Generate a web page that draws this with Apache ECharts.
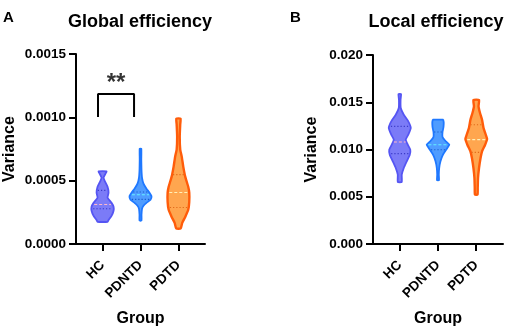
<!DOCTYPE html>
<html>
<head>
<meta charset="utf-8">
<script src="https://cdn.jsdelivr.net/npm/echarts@6/dist/echarts.min.js"></script>
<style>
  html, body { margin: 0; padding: 0; background: #fff; }
  #chart { width: 510px; height: 331px; }
</style>
</head>
<body>
<div id="chart"></div>
<script>
const groups = ['HC', 'PDNTD', 'PDTD'];
const groupPos = [1, 2, 3];

// Global efficiency - violin outlines: value + half width (category units)
const geHcY = [0.000574, 0.000556, 0.000524, 0.000492, 0.000452, 0.000405, 0.000365, 0.000325, 0.000294, 0.000262, 0.000222, 0.000190, 0.000175];
const geHcW = [0.105, 0.079, 0.026, 0.066, 0.132, 0.158, 0.132, 0.237, 0.29, 0.29, 0.237, 0.158, 0.132];
const gePdntdY = [0.000752, 0.000667, 0.000587, 0.000524, 0.000476, 0.000437, 0.000405, 0.000377, 0.000349, 0.000325, 0.000302, 0.000278, 0.000230, 0.000185];
const gePdntdW = [0.021, 0.021, 0.026, 0.04, 0.079, 0.158, 0.237, 0.29, 0.264, 0.158, 0.079, 0.04, 0.026, 0.026];
const gePdtdY = [0.000990, 0.000944, 0.000849, 0.000746, 0.000690, 0.000611, 0.000532, 0.000452, 0.000405, 0.000333, 0.000270, 0.000214, 0.000167, 0.000123];
const gePdtdW = [0.055, 0.047, 0.034, 0.047, 0.087, 0.127, 0.179, 0.258, 0.285, 0.285, 0.258, 0.179, 0.1, 0.06];
const geMedian = [0.000312, 0.000389, 0.000407];
const geQ1 = [0.000278, 0.000352, 0.000288];
const geQ3 = [0.000423, 0.000410, 0.000548];

// Local efficiency
const leHcY = [0.01587, 0.01527, 0.01439, 0.01368, 0.01298, 0.01228, 0.01157, 0.01104, 0.01051, 0.00998, 0.00945, 0.00875, 0.00804, 0.00733, 0.00656];
const leHcW = [0.034, 0.021, 0.026, 0.105, 0.223, 0.288, 0.223, 0.157, 0.209, 0.275, 0.262, 0.183, 0.105, 0.052, 0.052];
const lePdntdY = [0.01315, 0.01291, 0.01238, 0.01185, 0.01132, 0.0109, 0.01051, 0.01011, 0.00945, 0.00875, 0.00804, 0.00733, 0.00674];
const lePdntdW = [0.131, 0.149, 0.144, 0.118, 0.118, 0.196, 0.296, 0.236, 0.131, 0.065, 0.031, 0.021, 0.026];
const lePdtdY = [0.01524, 0.01457, 0.01386, 0.01315, 0.01228, 0.01164, 0.01111, 0.01048, 0.00981, 0.0091, 0.00804, 0.00698, 0.00593, 0.00524];
const lePdtdW = [0.073, 0.06, 0.099, 0.152, 0.191, 0.243, 0.283, 0.23, 0.152, 0.113, 0.073, 0.047, 0.039, 0.034];
const leMedian = [0.01079, 0.01051, 0.01104];
const leQ1 = [0.00956, 0.00998, 0.0097];
const leQ3 = [0.01245, 0.01185, 0.01262];

// significance bracket HC vs PDNTD
const bracketX = [0.88, 1.83];
const bracketY = [0.001003, 0.001184];

const fills = ['#7b7bf7', '#4f9cff', '#ffa64f'];
const strokes = ['#5555f3', '#1f78ff', '#ff5c0a'];
const strokeW = [1.8, 1.8, 2.4];
const medColors = ['#ffb8c8', '#66f0ff', '#fff0b8'];
const qColors = ['#3b3bc8', '#1a5cc8', '#e06a1a'];

function widthAt(ys, ws, v) {
  for (let k = 0; k < ys.length - 1; k++) {
    if (v <= ys[k] && v >= ys[k + 1]) {
      const t = (ys[k] - v) / (ys[k] - ys[k + 1]);
      return ws[k] + t * (ws[k + 1] - ws[k]);
    }
  }
  return 0;
}

function violinRender(shapes, med, q1, q3) {
  return function (params, api) {
    const i = params.dataIndex;
    const pos = api.value(0);
    const ys = shapes[i][0], ws = shapes[i][1];
    const left = [], right = [];
    for (let k = 0; k < ys.length; k++) {
      left.push(api.coord([pos - ws[k], ys[k]]));
      right.push(api.coord([pos + ws[k], ys[k]]));
    }
    const pts = left.concat(right.reverse());
    const children = [{
      type: 'polygon',
      shape: { points: pts, smooth: 0.15 },
      style: { fill: fills[i], stroke: strokes[i], lineWidth: strokeW[i], lineJoin: 'round' }
    }];
    const lines = [[q1[i], qColors[i], [1.2, 2]], [q3[i], qColors[i], [1.2, 2]], [med[i], medColors[i], [3, 2]]];
    lines.forEach(function (l) {
      const w = widthAt(ys, ws, l[0]) * 0.85;
      const a = api.coord([pos - w, l[0]]);
      const b = api.coord([pos + w, l[0]]);
      children.push({
        type: 'line',
        shape: { x1: a[0], y1: a[1], x2: b[0], y2: b[1] },
        style: { stroke: l[1], lineWidth: 1.1, lineDash: l[2] }
      });
    });
    return { type: 'group', children: children };
  };
}

const bold = { color: '#000', fontWeight: 'bold', fontFamily: 'Liberation Sans, Arial, sans-serif' };

function xAxisFor(gridIndex) {
  return {
    type: 'value', gridIndex: gridIndex, min: 0.3, max: 3.7,
    name: 'Group', nameLocation: 'middle', nameGap: 67,
    nameTextStyle: Object.assign({ fontSize: 16 }, bold),
    axisLine: { lineStyle: { color: '#000', width: 2 } },
    axisTick: { show: true, inside: false, customValues: groupPos, length: 7, lineStyle: { color: '#000', width: 2 } },
    axisLabel: Object.assign({
      customValues: groupPos, rotate: 45, fontSize: 13.5, margin: 19,
      formatter: function (v) { return groups[Math.round(v) - 1]; }
    }, bold),
    splitLine: { show: false }
  };
}

function yAxisFor(gridIndex, max, interval, digits, gap) {
  return {
    type: 'value', gridIndex: gridIndex, min: 0, max: max, interval: interval,
    name: 'Variance', nameLocation: 'middle', nameGap: gap,
    nameTextStyle: Object.assign({ fontSize: 16 }, bold),
    axisLine: { show: true, lineStyle: { color: '#000', width: 2 } },
    axisTick: { show: true, inside: false, length: 7, lineStyle: { color: '#000', width: 2 } },
    axisLabel: Object.assign({ fontSize: 13.5, margin: 10, formatter: function (v) { return v.toFixed(digits); } }, bold),
    splitLine: { show: false }
  };
}

const chart = echarts.init(document.getElementById('chart'));
chart.setOption({
  animation: false,
  title: [
    { text: 'A', left: 3, top: 10, padding: 0, textStyle: Object.assign({ fontSize: 15 }, bold) },
    { text: 'Global efficiency', left: 140, top: 13, padding: 0, textAlign: 'center', textStyle: Object.assign({ fontSize: 18 }, bold) },
    { text: 'B', left: 290, top: 10, padding: 0, textStyle: Object.assign({ fontSize: 15 }, bold) },
    { text: 'Local efficiency', left: 436, top: 13, padding: 0, textAlign: 'center', textStyle: Object.assign({ fontSize: 18 }, bold) }
  ],
  grid: [
    { left: 76, top: 54, width: 129, height: 190, outerBoundsMode: 'none', containLabel: false },
    { left: 373, top: 55, width: 130, height: 189, outerBoundsMode: 'none', containLabel: false }
  ],
  xAxis: [xAxisFor(0), xAxisFor(1)],
  yAxis: [yAxisFor(0, 0.0015, 0.0005, 4, 58), yAxisFor(1, 0.02, 0.005, 3, 53)],
  series: [
    {
      type: 'custom', xAxisIndex: 0, yAxisIndex: 0,
      renderItem: violinRender([[geHcY, geHcW], [gePdntdY, gePdntdW], [gePdtdY, gePdtdW]], geMedian, geQ1, geQ3),
      data: groupPos.map(function (p, i) { return [p, geMedian[i]]; })
    },
    {
      type: 'custom', xAxisIndex: 1, yAxisIndex: 1,
      renderItem: violinRender([[leHcY, leHcW], [lePdntdY, lePdntdW], [lePdtdY, lePdtdW]], leMedian, leQ1, leQ3),
      data: groupPos.map(function (p, i) { return [p, leMedian[i]]; })
    },
    {
      type: 'line', xAxisIndex: 0, yAxisIndex: 0, symbol: 'none', silent: true,
      lineStyle: { color: '#000', width: 2 },
      data: [[bracketX[0], bracketY[0]], [bracketX[0], bracketY[1]], [bracketX[1], bracketY[1]], [bracketX[1], bracketY[0]]]
    },
    {
      type: 'scatter', xAxisIndex: 0, yAxisIndex: 0, symbolSize: 0, silent: true,
      data: [[(bracketX[0] + bracketX[1]) / 2, 0.00127]],
      label: Object.assign({ show: true, position: 'inside', fontSize: 24, formatter: '**' }, bold)
    }
  ]
});
</script>
</body>
</html>
